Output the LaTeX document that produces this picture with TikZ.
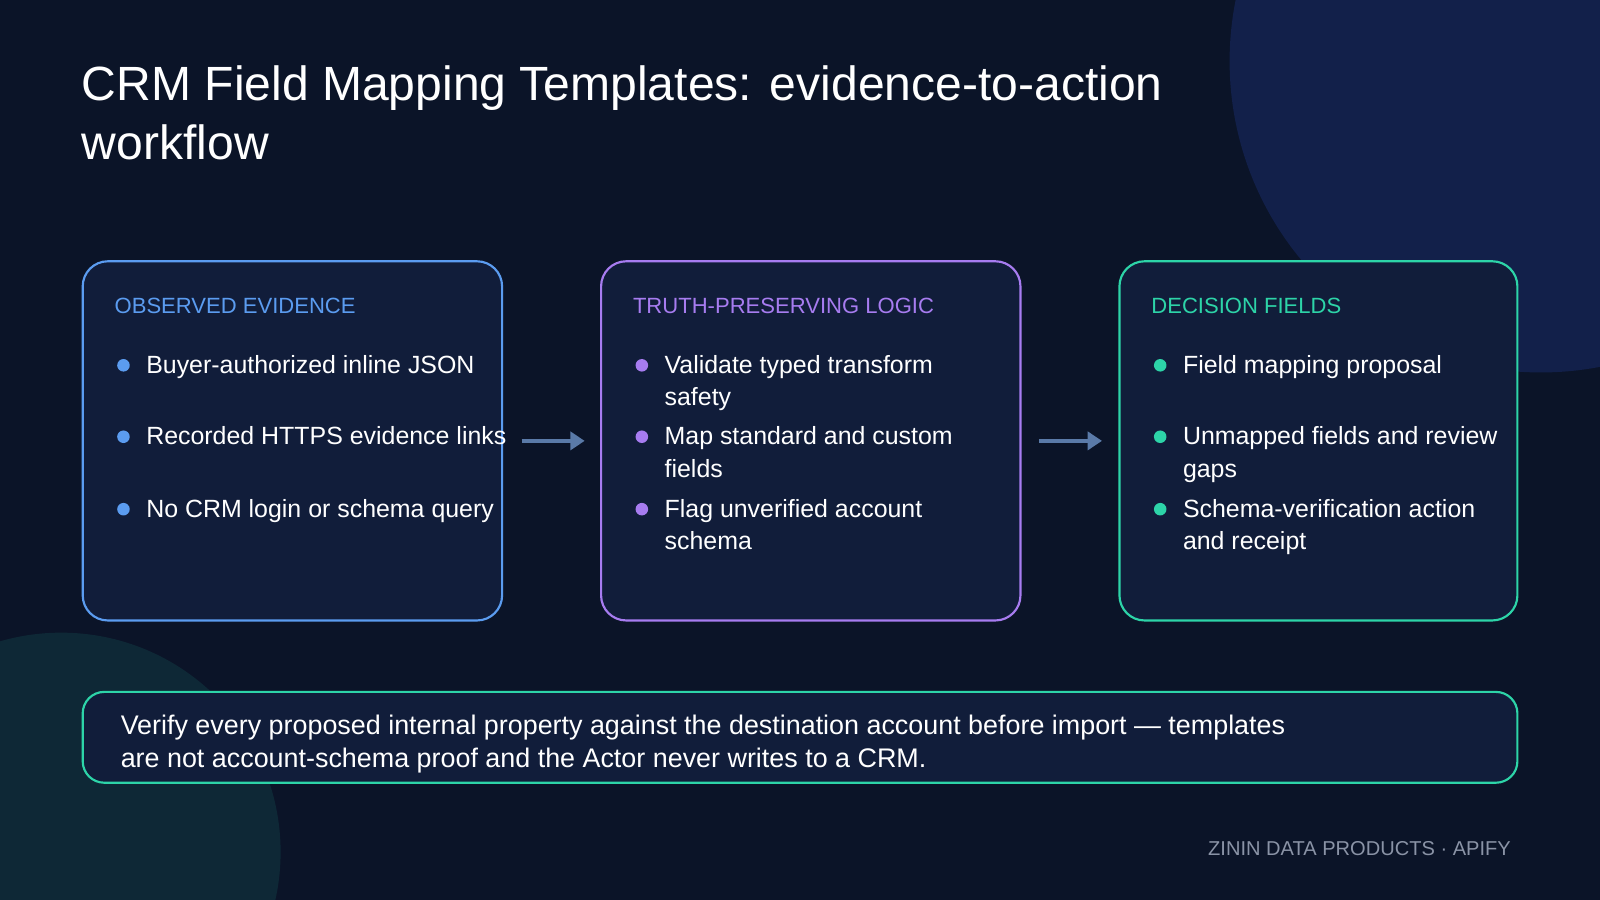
\documentclass[tikz,border=0pt]{standalone}
\usepackage{fontspec}
\setmainfont{Liberation Sans}
\usetikzlibrary{positioning,arrows.meta}
\definecolor{bgnavy}{HTML}{0B1428}
\definecolor{blobtop}{HTML}{12204A}
\definecolor{blobbot}{HTML}{0E2836}
\definecolor{cardfill}{HTML}{111D3A}
\definecolor{cblue}{HTML}{5B9CF0}
\definecolor{cpurple}{HTML}{A77CF0}
\definecolor{cteal}{HTML}{2DD4A8}
\definecolor{arrowcol}{HTML}{5A7AA8}
\definecolor{footcol}{HTML}{8A93A6}
\tikzset{
  card/.style={rectangle, rounded corners=14pt, draw=#1, line width=1.2pt, fill=cardfill, minimum width=411*0.02cm, minimum height=352*0.02cm, anchor=north west},
  head/.style={anchor=base west, font=\fontsize{12.3}{14}\selectfont, text=#1, inner sep=0pt},
  item/.style={anchor=north west, font=\fontsize{13.9}{18}\selectfont, text=white, align=left, inner sep=0pt},
  dot/.style={circle, fill=#1, minimum size=7pt, inner sep=0pt},
  flow/.style={-{Triangle[length=8pt,width=10pt]}, line width=2.5pt, draw=arrowcol},
}
\begin{document}
\begin{tikzpicture}[x=0.02cm, y=-0.02cm]
\fill[bgnavy] (0,0) rectangle (1568,882);
\begin{scope}
\clip (0,0) rectangle (1568,882);
\fill[blobtop] (1510,60) circle (305);
\fill[blobbot] (60,835) circle (215);
\end{scope}
\useasboundingbox (0,0) rectangle (1568,882);

% title
\node[anchor=north west, text=white, align=left, inner sep=0pt, font=\fontsize{26.8}{33}\selectfont] (title) at (80,64) {CRM Field Mapping Templates: evidence-to-action\\workflow};

% cards
\node[card=cblue] (evid) at (80,255) {};
\node[card=cpurple] (logic) at (588,255) {};
\node[card=cteal, minimum width=390*0.02cm] (fields) at (1096,255) {};

\node[head=cblue] (h1) at (112,307) {OBSERVED EVIDENCE};
\node[head=cpurple] (h2) at (620,307) {TRUTH-PRESERVING LOGIC};
\node[head=cteal] (h3) at (1128,307) {DECISION FIELDS};

% bullets
\foreach \y/\t [count=\i] in {366/{Buyer-authorized inline JSON}, 436/{Recorded HTTPS evidence links}, 507/{No CRM login or schema query}} {
  \node[dot=cblue] (d1\i) at (121,\y-8) {};
  \node[item] (t1\i) at (143,\y-18) {\t};
}
\foreach \y/\t [count=\i] in {366/{Validate typed transform\\safety}, 436/{Map standard and custom\\fields}, 507/{Flag unverified account\\schema}} {
  \node[dot=cpurple] (d2\i) at (629,\y-8) {};
  \node[item] (t2\i) at (651,\y-18) {\t};
}
\foreach \y/\t [count=\i] in {366/{Field mapping proposal}, 436/{Unmapped fields and review\\gaps}, 507/{Schema-verification action\\and receipt}} {
  \node[dot=cteal] (d3\i) at (1137,\y-8) {};
  \node[item] (t3\i) at (1159,\y-18) {\t};
}

% connectors
\draw[flow, shorten <=18*0.02cm, shorten >=15*0.02cm] (evid.east) -- (logic.west);
\draw[flow, shorten <=17*0.02cm, shorten >=16*0.02cm] (logic.east) -- (fields.west);

% note
\node[rectangle, rounded corners=12pt, draw=cteal, line width=1.2pt, fill=cardfill, minimum width=1406*0.02cm, minimum height=89*0.02cm, anchor=north west] (note) at (80,677) {};
\node[item, font=\fontsize{15}{18.7}\selectfont] (notetxt) at (118,700) {Verify every proposed internal property against the destination account before import — templates\\are not account-schema proof and the Actor never writes to a CRM.};

% footer
\node[anchor=base east, inner sep=0pt, text=footcol, font=\fontsize{11.2}{12}\selectfont] (foot) at (1481,838) {ZININ DATA PRODUCTS · APIFY};
\end{tikzpicture}
\end{document}
